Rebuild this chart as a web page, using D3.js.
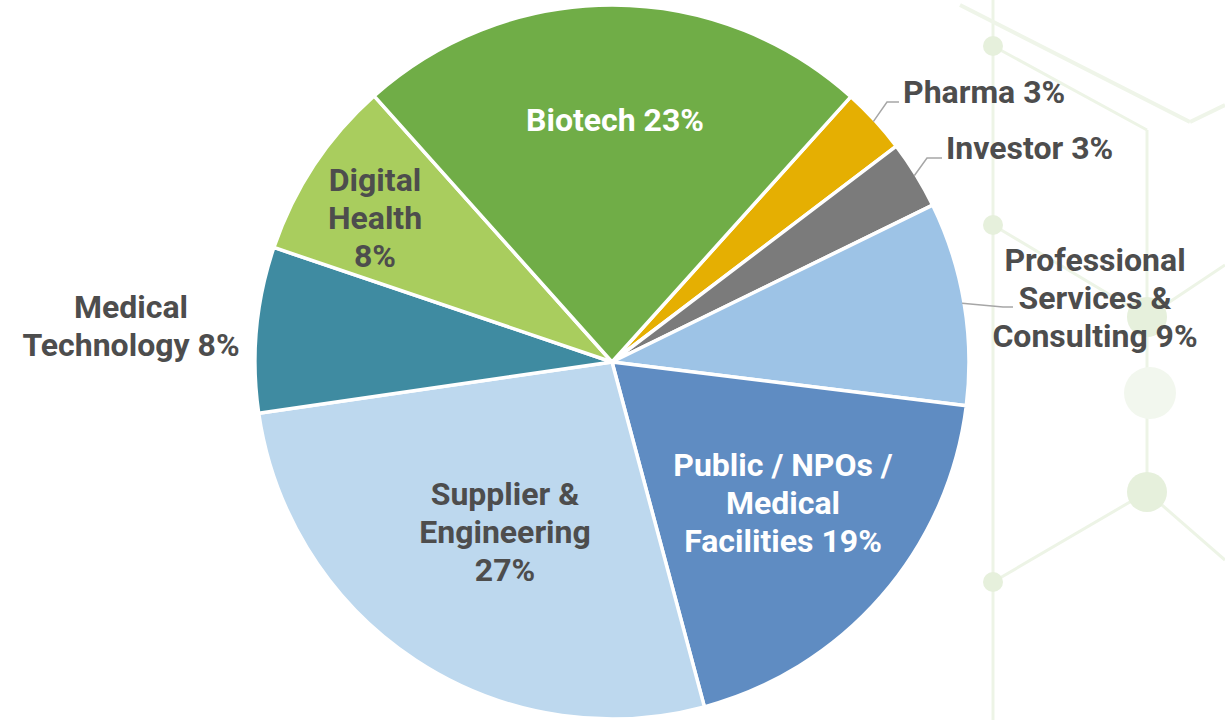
<!DOCTYPE html>
<html>
<head>
<meta charset="utf-8">
<script src="https://cdn.jsdelivr.net/npm/d3@7"></script>
<style>
  body { margin: 0; background: #ffffff; }
  svg { display: block; }
  .lbl { font-family: Roboto, "Open Sans", sans-serif; font-weight: 700; font-size: 32px; }
</style>
</head>
<body>
<div id="chart"></div>
<script>
// sector shares (%), clockwise starting at the Pharma slice
var sectors = ["Pharma", "Investor", "Professional Services & Consulting", "Public / NPOs / Medical Facilities",
               "Supplier & Engineering", "Medical Technology", "Digital Health", "Biotech"];
var shares = [3.0, 3.1, 9.2, 18.9, 26.9, 7.5, 8.2, 23.3];
var sliceColors = ["#e5af02", "#7b7b7b", "#9dc3e6", "#5f8cc2", "#bdd8ee", "#3f8ba1", "#a9cd5e", "#70ad47"];

// how each label is written (lines)
var labelLines = [
  ["Pharma 3%"],
  ["Investor 3%"],
  ["Professional", "Services &", "Consulting 9%"],
  ["Public / NPOs /", "Medical", "Facilities 19%"],
  ["Supplier &", "Engineering", "27%"],
  ["Medical", "Technology 8%"],
  ["Digital", "Health", "8%"],
  ["Biotech 23%"]
];

var width = 1225;
var height = 720;
var cx = 612, cy = 362, radius = 357;
var lineH = 38;

var svg = d3.select("#chart")
    .append("svg")
    .attr("width", width)
    .attr("height", height);

// faint molecule pattern in the background (right side)
var bg = svg.append("g").attr("class", "bg");
var nodes = [[993, 46], [993, 225], [1147, 317], [1147, 492], [993, 582], [1147, 130], [1225, 265], [1225, 560]];
var links = [[0, 1], [1, 4], [2, 3], [1, 2], [3, 4], [0, 5], [5, 2], [2, 6], [3, 7]];
links.forEach(function(l) {
    bg.append("line")
        .attr("x1", nodes[l[0]][0]).attr("y1", nodes[l[0]][1])
        .attr("x2", nodes[l[1]][0]).attr("y2", nodes[l[1]][1])
        .attr("stroke", "#edf4e6")
        .attr("stroke-width", 3);
});
bg.append("line").attr("x1", 993).attr("y1", 0).attr("x2", 993).attr("y2", 46).attr("stroke", "#edf4e6").attr("stroke-width", 3);
bg.append("line").attr("x1", 993).attr("y1", 582).attr("x2", 993).attr("y2", 720).attr("stroke", "#edf4e6").attr("stroke-width", 3);
bg.append("line").attr("x1", 960).attr("y1", 5).attr("x2", 1190).attr("y2", 122).attr("stroke", "#eff5e9").attr("stroke-width", 4);
bg.append("line").attr("x1", 1190).attr("y1", 122).attr("x2", 1225).attr("y2", 105).attr("stroke", "#eff5e9").attr("stroke-width", 4);
bg.selectAll("circle")
    .data(nodes.slice(0, 5))
    .enter()
    .append("circle")
    .attr("cx", function(d) { return d[0]; })
    .attr("cy", function(d) { return d[1]; })
    .attr("r", function(d, i) { return i === 2 || i === 3 ? 20 : 10; })
    .attr("fill", "#e6f0dc");
bg.append("circle").attr("cx", 1150).attr("cy", 393).attr("r", 26).attr("fill", "#f2f7ee");

// Pie
var startA = 42 * Math.PI / 180;
var pie = d3.pie()
    .sort(null)
    .value(function(d) { return d; })
    .startAngle(startA)
    .endAngle(startA + 2 * Math.PI);

var arcs = pie(shares);
var arc = d3.arc().innerRadius(0).outerRadius(radius);
var edgeArc = d3.arc().innerRadius(radius - 2).outerRadius(radius - 2);

var g = svg.append("g").attr("transform", "translate(" + cx + "," + cy + ")");

g.selectAll("path.slice")
    .data(arcs)
    .enter()
    .append("path")
    .attr("class", "slice")
    .attr("d", arc)
    .attr("fill", function(d, i) { return sliceColors[i]; })
    .attr("stroke", "#ffffff")
    .attr("stroke-width", 3.5)
    .attr("stroke-linejoin", "round");

// label placement (page coords of first baseline)
var labelPos = [
  {x: 903, y: 103, anchor: "start", color: "#4d4d4d", elbow: [887, 102], end: [899, 102]},
  {x: 946, y: 159, anchor: "start", color: "#4d4d4d", elbow: [927, 158], end: [942, 158]},
  {x: 1095, y: 271, anchor: "middle", color: "#4d4d4d", elbow: [1003, 307], end: [1013, 307]},
  {x: 783, y: 476, anchor: "middle", color: "#ffffff"},
  {x: 505, y: 505, anchor: "middle", color: "#4d4d4d"},
  {x: 131, y: 318, anchor: "middle", color: "#4d4d4d"},
  {x: 375, y: 191, anchor: "middle", color: "#4d4d4d"},
  {x: 615, y: 131, anchor: "middle", color: "#ffffff"}
];

// leader lines for the small outside labels
arcs.forEach(function(d, i) {
    var p = labelPos[i];
    if (!p.elbow) return;
    var c = edgeArc.centroid(d);
    svg.append("polyline")
        .attr("points", [[c[0] + cx, c[1] + cy], p.elbow, p.end].map(function(q) { return q.join(","); }).join(" "))
        .attr("fill", "none")
        .attr("stroke", "#a6a6a6")
        .attr("stroke-width", 1.5);
});

var labels = svg.append("g").attr("class", "labels");
labelLines.forEach(function(lines, i) {
    var p = labelPos[i];
    var t = labels.append("text")
        .attr("class", "lbl")
        .attr("text-anchor", p.anchor)
        .attr("fill", p.color);
    lines.forEach(function(s, j) {
        t.append("tspan")
            .attr("x", p.x)
            .attr("y", p.y + j * lineH)
            .text(s);
    });
});
</script>
</body>
</html>
